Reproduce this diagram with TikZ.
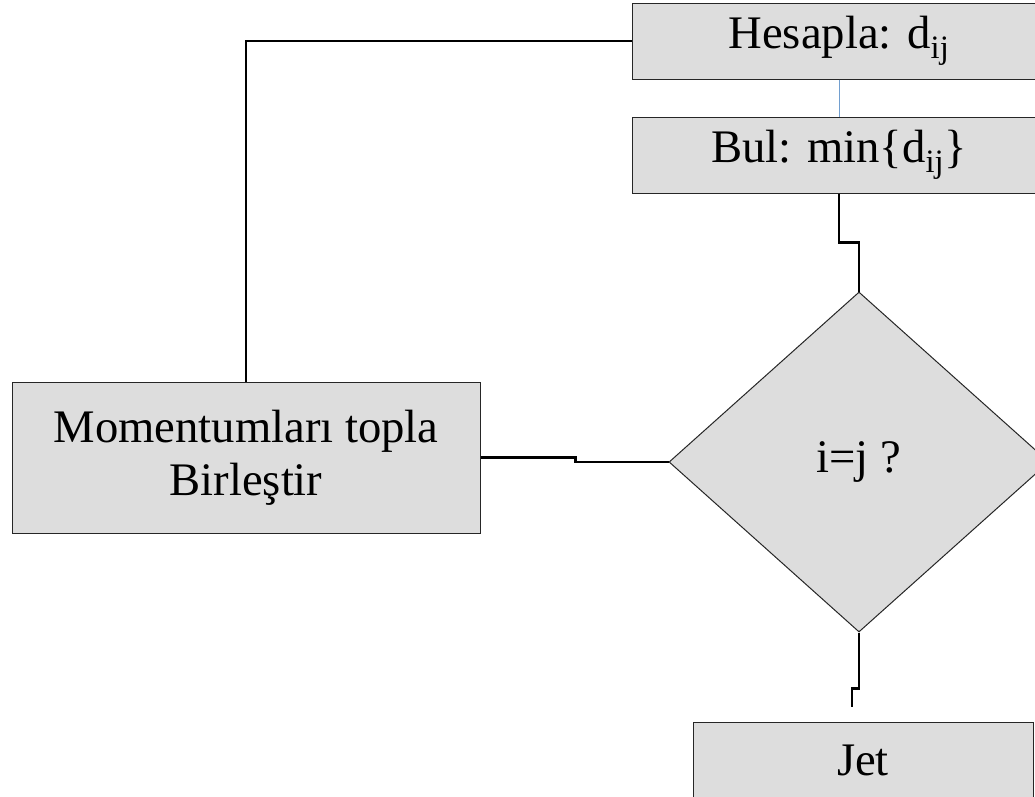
\documentclass[tikz,border=0pt]{standalone}
\usepackage{fontspec}
\setmainfont{Liberation Serif}
\usepackage{xcolor}
\usetikzlibrary{shapes.geometric}

\definecolor{boxfill}{HTML}{DDDDDD}
\definecolor{linkblue}{HTML}{729FCF}

\begin{document}
\begin{tikzpicture}[
    x=0.75pt, y=-0.75pt,
    box/.style={draw=black!85, fill=boxfill, line width=0.75pt, inner sep=0pt,
                font=\fontsize{35}{40}\selectfont, align=center,
                minimum width=#1},
    box/.default={310.5pt},
    cond/.style={diamond, draw=black!85, fill=boxfill, line width=0.75pt,
                 inner sep=0pt, font=\fontsize{35}{40}\selectfont,
                 minimum width=285pt, minimum height=255pt},
    link/.style={line width=1.6pt, black},
    thinlink/.style={line width=0.75pt, linkblue}
]
\clip (0,0) rectangle (1035,796);

% ---- Loop: distances ----
\node[box, minimum height=57pt] (hesa) at (839,41)  {Hesapla: d\textsubscript{ij}};
\node[box, minimum height=57pt] (bul)  at (839,155) {Bul: min\{d\textsubscript{ij}\}};

% ---- Decision ----
\node[cond] (test) at (859,462) {i=j ?};

% ---- Merge / output ----
\node[box=351pt, minimum height=113.25pt] (merge) at (246,457.5)
      {Momentumları topla\\Birleştir};
\node[box=255pt, minimum height=57pt] (jet) at (863,760) {Jet};
\coordinate (jetin) at (852,707);

% ---- Connectors ----
\draw[thinlink] (hesa.south) -- (bul.north);
\draw[link] (bul.south) -- ++(0,49) -| (test.north);
\draw[link] (merge.east) -- ++(95,0) |- (test.west);
\draw[link] (merge.north) |- (hesa.west);
\draw[link] (test.south) -- ++(0,56) -| (jetin);

\end{tikzpicture}
\end{document}
